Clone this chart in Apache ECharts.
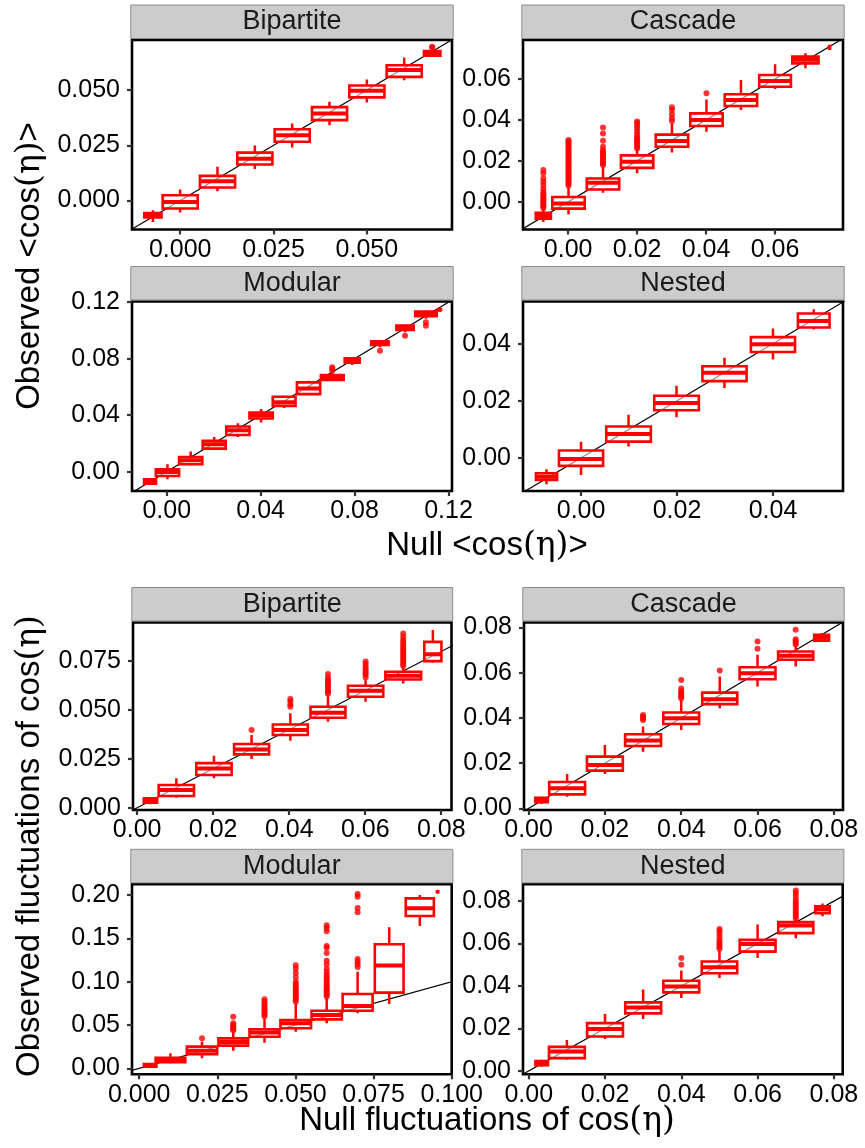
<!DOCTYPE html>
<html>
<head>
<meta charset="utf-8">
<script src="https://cdn.jsdelivr.net/npm/echarts@6/dist/echarts.min.js"></script>
<style>
  html, body { margin: 0; padding: 0; background: #fff; }
  #chart { width: 865px; height: 1148px; }
</style>
</head>
<body>
<div id="chart"></div>
<script>
// ---- data: box stats are [lower whisker, q1, median, q3, upper whisker] ----
// outliers: [x, [y values]]

// <cos(eta)> : Bipartite
const meanBipX = [-0.0073, 0.0, 0.010, 0.020, 0.030, 0.040, 0.050, 0.060, 0.0675]
const meanBipW = [0.0046, 0.0094, 0.0094, 0.0094, 0.0094, 0.0094, 0.0094, 0.0094, 0.0044]
const meanBipStats = [
  [-0.0097, -0.0077, -0.0066, -0.0056, -0.0044],
  [-0.0054, -0.0036, -0.0006, 0.0024, 0.0050],
  [0.0042, 0.0059, 0.0088, 0.0112, 0.0153],
  [0.0143, 0.0163, 0.0189, 0.0217, 0.0249],
  [0.0240, 0.0266, 0.0296, 0.0323, 0.0349],
  [0.0341, 0.0364, 0.0394, 0.0423, 0.0447],
  [0.0444, 0.0467, 0.0497, 0.0521, 0.0548],
  [0.0545, 0.0560, 0.0591, 0.0613, 0.0648],
  [0.0651, 0.0656, 0.0666, 0.0677, 0.0690]
]
const meanBipOut = [[0.0675, [0.0693, 0.0697]]]

// <cos(eta)> : Cascade
const meanCasX = [-0.0072, 0.0001, 0.0101, 0.0200, 0.0301, 0.0401, 0.0501, 0.0600, 0.0688, 0.0758]
const meanCasW = [0.0044, 0.0094, 0.0094, 0.0094, 0.0094, 0.0094, 0.0094, 0.0092, 0.0076, 0.0003]
const meanCasStats = [
  [-0.0098, -0.0082, -0.0068, -0.0054, -0.0035],
  [-0.0062, -0.0033, -0.0008, 0.0024, 0.0072],
  [0.0044, 0.0060, 0.0093, 0.0114, 0.0170],
  [0.0139, 0.0166, 0.0196, 0.0227, 0.0253],
  [0.0241, 0.0269, 0.0297, 0.0328, 0.0383],
  [0.0342, 0.0370, 0.0399, 0.0432, 0.0500],
  [0.0448, 0.0468, 0.0497, 0.0525, 0.0595],
  [0.0551, 0.0562, 0.0590, 0.0619, 0.0672],
  [0.0652, 0.0676, 0.0693, 0.0709, 0.0725],
  [0.0742, 0.0748, 0.0754, 0.0760, 0.0766]
]
const meanCasOut = [
  [-0.0072, [-0.0030, -0.0022, -0.0015, -0.0008, 0.0000, 0.0007, 0.0014, 0.0022, 0.0030, 0.0040, 0.0049, 0.0065, 0.0082, 0.0098, 0.0114, 0.0139, 0.0155]],
  [0.0001, [0.0080, 0.0088, 0.0096, 0.0104, 0.0112, 0.0120, 0.0128, 0.0136, 0.0144, 0.0152, 0.0160, 0.0168, 0.0176, 0.0184, 0.0192, 0.0200, 0.0208, 0.0216, 0.0224, 0.0232, 0.0240, 0.0248, 0.0256, 0.0264, 0.0272, 0.0280, 0.0288, 0.0296, 0.0302]],
  [0.0101, [0.0180, 0.0187, 0.0195, 0.0202, 0.0210, 0.0218, 0.0226, 0.0234, 0.0243, 0.0252, 0.0269, 0.0298, 0.0334, 0.0363]],
  [0.0200, [0.0260, 0.0268, 0.0276, 0.0284, 0.0292, 0.0300, 0.0308, 0.0316, 0.0330, 0.0345, 0.0360, 0.0372, 0.0385, 0.0392]],
  [0.0301, [0.0395, 0.0408, 0.0427, 0.0448, 0.0462]],
  [0.0401, [0.0530]]
]

// <cos(eta)> : Modular
const meanModX = [-0.0071, 0.0003, 0.0102, 0.0202, 0.0303, 0.0402, 0.0500, 0.0604, 0.0705, 0.0790, 0.0908, 0.1015, 0.1104, 0.1162]
const meanModW = [0.0051, 0.0099, 0.0099, 0.0098, 0.0099, 0.0099, 0.0097, 0.0099, 0.0097, 0.0064, 0.0074, 0.0074, 0.0092, 0.0012]
const meanModStats = [
  [-0.0090, -0.0085, -0.0070, -0.0054, -0.0047],
  [-0.0054, -0.0031, -0.0002, 0.0017, 0.0052],
  [0.0045, 0.0052, 0.0080, 0.0104, 0.0142],
  [0.0154, 0.0163, 0.0194, 0.0218, 0.0246],
  [0.0246, 0.0260, 0.0293, 0.0320, 0.0343],
  [0.0348, 0.0376, 0.0400, 0.0419, 0.0443],
  [0.0450, 0.0466, 0.0492, 0.0530, 0.0537],
  [0.0544, 0.0549, 0.0589, 0.0632, 0.0644],
  [0.0644, 0.0649, 0.0667, 0.0684, 0.0696],
  [0.0755, 0.0772, 0.0786, 0.0802, 0.0805],
  [0.0881, 0.0897, 0.0908, 0.0923, 0.0926],
  [0.0987, 0.1004, 0.1020, 0.1034, 0.1039],
  [0.1082, 0.1101, 0.1117, 0.1134, 0.1141],
  [0.1140, 0.1143, 0.1146, 0.1149, 0.1152]
]
const meanModOut = [
  [0.0705, [0.0715, 0.0728, 0.0739]],
  [0.0908, [0.0857]],
  [0.1015, [0.0963]],
  [0.1104, [0.1034, 0.1058]]
]

// <cos(eta)> : Nested
const meanNesX = [-0.0072, 0.0000, 0.0099, 0.0199, 0.0299, 0.0400, 0.0485]
const meanNesW = [0.0044, 0.0092, 0.0093, 0.0093, 0.0092, 0.0092, 0.0066]
const meanNesStats = [
  [-0.0092, -0.0077, -0.0066, -0.0054, -0.0040],
  [-0.0060, -0.0028, -0.0004, 0.0026, 0.0057],
  [0.0040, 0.0057, 0.0084, 0.0110, 0.0151],
  [0.0142, 0.0167, 0.0192, 0.0218, 0.0253],
  [0.0245, 0.0269, 0.0298, 0.0321, 0.0351],
  [0.0345, 0.0371, 0.0398, 0.0423, 0.0453],
  [0.0450, 0.0457, 0.0480, 0.0506, 0.0521]
]
const meanNesOut = []

// fluctuations : Bipartite
const flucBipX = [0.0035, 0.0103, 0.0202, 0.0301, 0.0403, 0.0502, 0.0601, 0.0700, 0.0778]
const flucBipW = [0.0035, 0.0093, 0.0093, 0.0092, 0.0092, 0.0092, 0.0093, 0.0094, 0.0045]
const flucBipStats = [
  [0.0017, 0.0026, 0.0037, 0.0048, 0.0053],
  [0.0051, 0.0060, 0.0090, 0.0116, 0.0150],
  [0.0150, 0.0167, 0.0201, 0.0228, 0.0266],
  [0.0249, 0.0273, 0.0298, 0.0326, 0.0372],
  [0.0343, 0.0372, 0.0397, 0.0426, 0.0483],
  [0.0440, 0.0460, 0.0486, 0.0517, 0.0576],
  [0.0542, 0.0568, 0.0599, 0.0624, 0.0656],
  [0.0636, 0.0656, 0.0675, 0.0696, 0.0718],
  [0.0742, 0.0750, 0.0786, 0.0849, 0.0909]
]
const flucBipOut = [
  [0.0301, [0.0397]],
  [0.0403, [0.0517, 0.0530, 0.0545, 0.0556]],
  [0.0502, [0.0585, 0.0592, 0.0600, 0.0610, 0.0620, 0.0630, 0.0640, 0.0652, 0.0665, 0.0684]],
  [0.0601, [0.0668, 0.0680, 0.0690, 0.0700, 0.0710, 0.0722, 0.0735, 0.0748]],
  [0.0700, [0.0725, 0.0735, 0.0745, 0.0755, 0.0765, 0.0775, 0.0785, 0.0795, 0.0805, 0.0815, 0.0825, 0.0835, 0.0848, 0.0860, 0.0875, 0.0892]]
]

// fluctuations : Cascade
const flucCasX = [0.0034, 0.0101, 0.0200, 0.0300, 0.0400, 0.0501, 0.0600, 0.0700, 0.0768]
const flucCasW = [0.0033, 0.0094, 0.0094, 0.0094, 0.0094, 0.0092, 0.0094, 0.0092, 0.0039]
const flucCasStats = [
  [0.0019, 0.0028, 0.0037, 0.0047, 0.0052],
  [0.0052, 0.0062, 0.0089, 0.0117, 0.0152],
  [0.0152, 0.0167, 0.0192, 0.0229, 0.0280],
  [0.0251, 0.0276, 0.0300, 0.0328, 0.0362],
  [0.0347, 0.0373, 0.0399, 0.0424, 0.0480],
  [0.0443, 0.0461, 0.0483, 0.0512, 0.0583],
  [0.0539, 0.0571, 0.0598, 0.0624, 0.0679],
  [0.0627, 0.0657, 0.0675, 0.0694, 0.0718],
  [0.0737, 0.0742, 0.0755, 0.0768, 0.0775]
]
const flucCasOut = [
  [0.0300, [0.0391, 0.0398, 0.0405, 0.0413]],
  [0.0400, [0.0487, 0.0495, 0.0503, 0.0510, 0.0518, 0.0530, 0.0568]],
  [0.0501, [0.0610]],
  [0.0600, [0.0706, 0.0738]],
  [0.0700, [0.0725, 0.0732, 0.0740, 0.0748, 0.0790]]
]

// fluctuations : Modular
const flucModX = [0.0035, 0.0100, 0.0201, 0.0301, 0.0401, 0.0501, 0.0600, 0.0699, 0.0800, 0.0898, 0.0955]
const flucModW = [0.0040, 0.0095, 0.0097, 0.0095, 0.0096, 0.0098, 0.0097, 0.0096, 0.0092, 0.0090, 0.0004]
const flucModStats = [
  [0.0012, 0.0020, 0.0035, 0.0050, 0.0058],
  [0.0058, 0.0070, 0.0096, 0.0120, 0.0173],
  [0.0115, 0.0162, 0.0204, 0.0250, 0.0308],
  [0.0204, 0.0262, 0.0304, 0.0346, 0.0423],
  [0.0296, 0.0365, 0.0412, 0.0450, 0.0577],
  [0.0423, 0.0462, 0.0519, 0.0558, 0.0750],
  [0.0519, 0.0565, 0.0615, 0.0665, 0.0808],
  [0.0635, 0.0665, 0.0720, 0.0858, 0.1115],
  [0.0742, 0.0873, 0.1185, 0.1431, 0.1627],
  [0.1642, 0.1758, 0.1846, 0.1961, 0.2000],
  [0.2028, 0.2033, 0.2038, 0.2043, 0.2048]
]
const flucModOut = [
  [0.0201, [0.0346]],
  [0.0301, [0.0440, 0.0455, 0.0470, 0.0485, 0.0500, 0.0520, 0.0596]],
  [0.0401, [0.0600, 0.0620, 0.0640, 0.0660, 0.0680, 0.0700, 0.0720, 0.0745, 0.0770, 0.0796]],
  [0.0501, [0.0770, 0.0790, 0.0810, 0.0830, 0.0850, 0.0870, 0.0890, 0.0910, 0.0930, 0.0950, 0.0975, 0.1000, 0.1050, 0.1100, 0.1150, 0.1190]],
  [0.0600, [0.0830, 0.0850, 0.0870, 0.0890, 0.0910, 0.0930, 0.0950, 0.0975, 0.1000, 0.1025, 0.1050, 0.1080, 0.1110, 0.1150, 0.1200, 0.1240, 0.1330, 0.1390, 0.1410, 0.1580, 0.1620, 0.1650]],
  [0.0699, [0.1170, 0.1200, 0.1230, 0.1260, 0.1800, 0.1850, 0.1980, 0.2010]]
]

// fluctuations : Nested
const flucNesX = [0.0034, 0.0100, 0.0200, 0.0300, 0.0400, 0.0500, 0.0600, 0.0700, 0.0770]
const flucNesW = [0.0033, 0.0094, 0.0094, 0.0094, 0.0094, 0.0093, 0.0094, 0.0092, 0.0038]
const flucNesStats = [
  [0.0020, 0.0027, 0.0036, 0.0047, 0.0052],
  [0.0052, 0.0060, 0.0091, 0.0113, 0.0146],
  [0.0150, 0.0162, 0.0197, 0.0225, 0.0268],
  [0.0244, 0.0271, 0.0299, 0.0323, 0.0383],
  [0.0343, 0.0370, 0.0397, 0.0425, 0.0473],
  [0.0438, 0.0460, 0.0488, 0.0515, 0.0567],
  [0.0532, 0.0562, 0.0598, 0.0617, 0.0690],
  [0.0625, 0.0649, 0.0685, 0.0701, 0.0712],
  [0.0728, 0.0743, 0.0761, 0.0775, 0.0788]
]
const flucNesOut = [
  [0.0400, [0.0500, 0.0532]],
  [0.0500, [0.0575, 0.0585, 0.0595, 0.0605, 0.0615, 0.0630, 0.0645, 0.0658, 0.0669]],
  [0.0700, [0.0717, 0.0727, 0.0737, 0.0747, 0.0757, 0.0767, 0.0777, 0.0787, 0.0797, 0.0810, 0.0825, 0.0838, 0.0850]]
]

// tick labels
const ticksMeanBip = [0, 0.025, 0.05]
const ticksMeanCas = [0, 0.02, 0.04, 0.06]
const ticksMeanMod = [0, 0.04, 0.08, 0.12]
const ticksMeanNes = [0, 0.02, 0.04]
const ticksFlucX = [0, 0.02, 0.04, 0.06, 0.08]
const ticksFlucY = [0, 0.02, 0.04, 0.06, 0.08]
const ticksFlucBipY = [0, 0.025, 0.05, 0.075]
const ticksFlucModX = [0, 0.025, 0.05, 0.075, 0.1]
const ticksFlucModY = [0, 0.05, 0.1, 0.15, 0.2]

// ---- layout ----
const RED = '#FF0000'
const FONT = '"Liberation Sans", Arial, sans-serif'

const panels = [
  { title: 'Bipartite', rect: [132, 40, 320, 189.5], xr: [-0.0129, 0.0728], yr: [-0.0131, 0.0727],
    xt: ticksMeanBip, yt: ticksMeanBip, xd: 3, yd: 3, bx: meanBipX, bw: meanBipW, bs: meanBipStats, out: meanBipOut },
  { title: 'Cascade', rect: [523, 40, 320, 189.5], xr: [-0.0131, 0.0797], yr: [-0.0135, 0.0790],
    xt: ticksMeanCas, yt: ticksMeanCas, xd: 2, yd: 2, bx: meanCasX, bw: meanCasW, bs: meanCasStats, out: meanCasOut },
  { title: 'Modular', rect: [132, 301.5, 320, 189.5], xr: [-0.0148, 0.1215], yr: [-0.0137, 0.1205],
    xt: ticksMeanMod, yt: ticksMeanMod, xd: 2, yd: 2, bx: meanModX, bw: meanModW, bs: meanModStats, out: meanModOut },
  { title: 'Nested', rect: [523, 301.5, 320, 189.5], xr: [-0.0121, 0.0546], yr: [-0.0116, 0.0548],
    xt: ticksMeanNes, yt: ticksMeanNes, xd: 2, yd: 2, bx: meanNesX, bw: meanNesW, bs: meanNesStats, out: meanNesOut },
  { title: 'Bipartite', rect: [133, 622.5, 318.5, 187.5], xr: [-0.0011, 0.0827], yr: [-0.0012, 0.0948],
    xt: ticksFlucX, yt: ticksFlucBipY, xd: 2, yd: 3, bx: flucBipX, bw: flucBipW, bs: flucBipStats, out: flucBipOut },
  { title: 'Cascade', rect: [524, 622.5, 319, 187.5], xr: [-0.0012, 0.0824], yr: [-0.0007, 0.0822],
    xt: ticksFlucX, yt: ticksFlucY, xd: 2, yd: 2, bx: flucCasX, bw: flucCasW, bs: flucCasStats, out: flucCasOut },
  { title: 'Modular', rect: [132, 884.3, 319.7, 190], xr: [-0.0023, 0.1], yr: [-0.0069, 0.2123],
    xt: ticksFlucModX, yt: ticksFlucModY, xd: 3, yd: 2, bx: flucModX, bw: flucModW, bs: flucModStats, out: flucModOut },
  { title: 'Nested', rect: [523, 884.3, 319.7, 190], xr: [-0.0015, 0.0823], yr: [-0.0016, 0.0879],
    xt: ticksFlucX, yt: ticksFlucY, xd: 2, yd: 2, bx: flucNesX, bw: flucNesW, bs: flucNesStats, out: flucNesOut }
]

const renderBox = (params, api) => {
  const x = api.value(0)
  const hw = api.value(1) / 2
  const lo = api.value(2), q1 = api.value(3), med = api.value(4), q3 = api.value(5), hi = api.value(6)
  const tl = api.coord([x - hw, q3])
  const br = api.coord([x + hw, q1])
  const pLo = api.coord([x, lo]), pQ1 = api.coord([x, q1])
  const pQ3 = api.coord([x, q3]), pHi = api.coord([x, hi])
  const mL = api.coord([x - hw, med]), mR = api.coord([x + hw, med])
  return {
    type: 'group',
    children: [
      { type: 'line', shape: { x1: pLo[0], y1: pLo[1], x2: pQ1[0], y2: pQ1[1] }, style: { stroke: RED, lineWidth: 2.5 } },
      { type: 'line', shape: { x1: pQ3[0], y1: pQ3[1], x2: pHi[0], y2: pHi[1] }, style: { stroke: RED, lineWidth: 2.5 } },
      { type: 'rect', shape: { x: tl[0], y: tl[1], width: br[0] - tl[0], height: br[1] - tl[1] },
        style: { fill: 'rgba(255,255,255,0.55)', stroke: RED, lineWidth: 2.6 } },
      { type: 'line', shape: { x1: mL[0], y1: mL[1], x2: mR[0], y2: mR[1] }, style: { stroke: RED, lineWidth: 4 } }
    ]
  }
}

const grids = [], xAxes = [], yAxes = [], series = [], graphics = []

panels.forEach((p, i) => {
  const [left, top, width, height] = p.rect
  grids.push({ left, top, width, height, show: true, borderColor: '#000', borderWidth: 2.6, backgroundColor: '#fff' })
  xAxes.push({
    type: 'value', gridIndex: i, min: p.xr[0], max: p.xr[1],
    axisLine: { show: false, onZero: false }, splitLine: { show: false },
    axisTick: { show: true, length: 5, customValues: p.xt, lineStyle: { color: '#333', width: 2.2 } },
    axisLabel: { customValues: p.xt, margin: 8, fontSize: 25, fontFamily: FONT, color: '#000',
      formatter: v => v.toFixed(p.xd) }
  })
  yAxes.push({
    type: 'value', gridIndex: i, min: p.yr[0], max: p.yr[1],
    axisLine: { show: false, onZero: false }, splitLine: { show: false },
    axisTick: { show: true, length: 5, customValues: p.yt, lineStyle: { color: '#333', width: 2.2 } },
    axisLabel: { customValues: p.yt, margin: 12, fontSize: 25, fontFamily: FONT, color: '#000',
      formatter: v => v.toFixed(p.yd) }
  })
  // y = x reference line
  series.push({
    type: 'line', xAxisIndex: i, yAxisIndex: i, data: [[-1, -1], [1, 1]],
    symbol: 'none', clip: true, silent: true, z: 1,
    lineStyle: { color: '#000', width: 1.2 }
  })
  series.push({
    type: 'custom', xAxisIndex: i, yAxisIndex: i, clip: true, z: 2,
    renderItem: renderBox,
    encode: { x: 0, y: [2, 3, 4, 5, 6] },
    data: p.bx.map((x, k) => [x, p.bw[k], ...p.bs[k]])
  })
  const pts = []
  p.out.forEach(([x, ys]) => ys.forEach(y => pts.push([x, y])))
  series.push({
    type: 'scatter', xAxisIndex: i, yAxisIndex: i, data: pts, clip: true, z: 3,
    symbol: 'circle', symbolSize: 6, itemStyle: { color: RED }
  })
  // facet strip
  graphics.push({
    type: 'rect', shape: { x: left - 1.2, y: top - 35, width: width + 2.4, height: 33.5 },
    style: { fill: '#CCCCCC', stroke: '#8C8C8C', lineWidth: 1 }
  })
  graphics.push({
    type: 'text', x: left + width / 2, y: top - 18,
    style: { text: p.title, fontSize: 27, fontFamily: FONT, fill: '#1A1A1A', align: 'center', verticalAlign: 'middle' }
  })
})

const etaRich = { e: { fontFamily: '"DejaVu Serif", serif', fontSize: 33, fill: '#000' } }
const axisTitle = (text, x, y, rot) => ({
  type: 'text', x, y, rotation: rot,
  style: { text, rich: etaRich, fontSize: 33, fontFamily: FONT, fill: '#000', align: 'center', verticalAlign: 'middle' }
})
graphics.push(axisTitle('Observed <cos{e|(η)}>', 30, 266, Math.PI / 2))
graphics.push(axisTitle('Null <cos{e|(η)}>', 487, 546, 0))
graphics.push(axisTitle('Observed fluctuations of cos{e|(η)}', 30, 846, Math.PI / 2))
graphics.push(axisTitle('Null fluctuations of cos{e|(η)}', 487, 1121, 0))

const chart = echarts.init(document.getElementById('chart'))
chart.setOption({
  animation: false,
  backgroundColor: '#fff',
  grid: grids,
  xAxis: xAxes,
  yAxis: yAxes,
  series,
  graphic: graphics
})
window.addEventListener('resize', () => chart.resize())
</script>
</body>
</html>
